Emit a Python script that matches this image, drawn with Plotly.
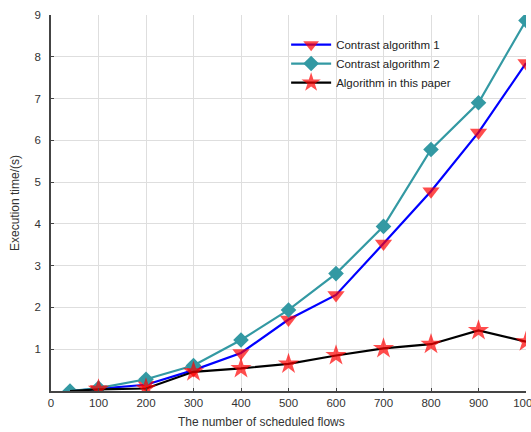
import plotly.graph_objects as go

flows = [40, 100, 200, 300, 400, 500, 600, 700, 800, 900, 1000]
alg1 = [0.0, 0.05, 0.15, 0.50, 0.91, 1.71, 2.30, 3.53, 4.78, 6.19, 7.85]
alg2 = [0.0, 0.07, 0.28, 0.61, 1.22, 1.94, 2.81, 3.94, 5.78, 6.90, 8.87]
ours = [0.0, 0.04, 0.06, 0.46, 0.54, 0.65, 0.85, 1.02, 1.12, 1.45, 1.18]
x_ticks = [0, 100, 200, 300, 400, 500, 600, 700, 800, 900, 1000]
y_ticks = [1, 2, 3, 4, 5, 6, 7, 8, 9]
names = ["Contrast algorithm 1", "Contrast algorithm 2", "Algorithm in this paper"]

font = "Liberation Sans, Arial, sans-serif"
hidden_first = lambda s: [0] + [s] * (len(flows) - 1)

fig = go.Figure()
fig.add_trace(go.Scatter(
    x=flows, y=alg1, name=names[0], mode="lines+markers",
    line=dict(color="#0000ff", width=2.2),
    marker=dict(symbol="triangle-down", color="#ff0000", size=hidden_first(15), line=dict(width=0)),
))
fig.add_trace(go.Scatter(
    x=flows, y=alg2, name=names[1], mode="lines+markers",
    line=dict(color="#3399a3", width=2.2),
    marker=dict(symbol="diamond", color="#3399a3", size=12, line=dict(width=0)),
))
fig.add_trace(go.Scatter(
    x=flows, y=ours, name=names[2], mode="lines+markers",
    line=dict(color="#000000", width=2.2),
    marker=dict(symbol="star", color="#ff0000", size=hidden_first(16), line=dict(width=0)),
))

fig.update_layout(
    width=531, height=432,
    margin=dict(l=51, r=5, t=15, b=41),
    paper_bgcolor="white", plot_bgcolor="white",
    font=dict(family=font, size=11, color="#333333"),
    showlegend=True,
    legend=dict(
        x=0.495, y=0.96, xanchor="left", yanchor="top",
        bgcolor="rgba(255,255,255,0)", borderwidth=0,
        font=dict(family=font, size=11.5, color="#222222"),
        tracegroupgap=0, itemwidth=40,
    ),
    xaxis=dict(
        range=[0, 1000], tickvals=x_ticks, ticktext=[str(v) for v in x_ticks],
        showgrid=True, gridcolor="#dedede", gridwidth=1,
        showline=True, linecolor="#444444", linewidth=1.5,
        ticks="inside", ticklen=3, tickcolor="#444444",
        zeroline=False, automargin=False, ticklabeloverflow="allow",
        tickfont=dict(family=font, size=11.5, color="#333333"),
    ),
    yaxis=dict(
        range=[0, 9], tickvals=y_ticks, ticktext=[str(v) for v in y_ticks],
        showgrid=True, gridcolor="#dedede", gridwidth=1,
        showline=True, linecolor="#444444", linewidth=1.5,
        ticks="inside", ticklen=3, tickcolor="#444444",
        zeroline=False, automargin=False, ticklabelstandoff=6,
        tickfont=dict(family=font, size=11.5, color="#333333"),
        title=dict(text="Execution time/(s)", font=dict(family=font, size=12, color="#333333"), standoff=12),
    ),
    annotations=[dict(
        text="The number of scheduled flows", xref="paper", yref="paper",
        x=(261 - 51) / 475, y=-0.083, xanchor="center", yanchor="middle",
        showarrow=False, font=dict(family=font, size=12, color="#333333"),
    )],
)

fig.write_html("out.html")
